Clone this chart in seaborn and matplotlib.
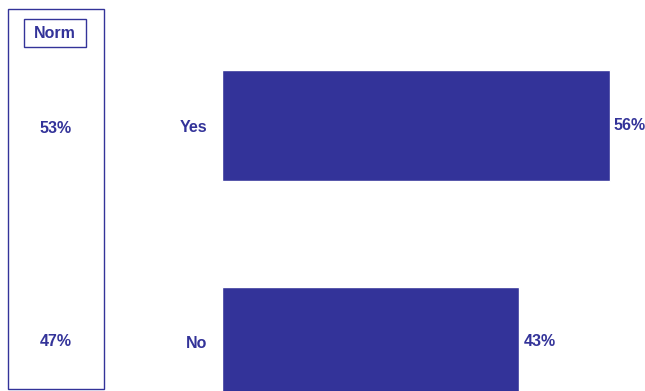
import matplotlib
matplotlib.use("Agg")
import matplotlib.pyplot as plt
from matplotlib.patches import Rectangle
import seaborn as sns
import pandas as pd

categories = ["Yes", "No"]
values = [56, 43]
norm_values = [53, 47]
norm_title = "Norm"

COLOR = "#333399"

sns.set_theme(style="white")
plt.rcParams["font.family"] = ["Liberation Sans", "DejaVu Sans"]

W, H = 645, 391
FS = 11.5
fig = plt.figure(figsize=(W / 100, H / 100), dpi=100)

# main bar axes
px_per_unit = 388 / 56
ax = fig.add_axes([221.5 / W, 0, (W - 221.5) / W, 1])
df = pd.DataFrame({"cat": categories, "val": values})
sns.barplot(data=df, y="cat", x="val", orient="h", color=COLOR, width=0.51,
            saturation=1, ax=ax)
ax.set_xlim(0, (W - 221.5) / px_per_unit)
ypx = 216.5
ylim = (1 + (391 - 342) / ypx, -125.5 / ypx)
ax.set_ylim(*ylim)
ax.set_xlabel("")
ax.set_ylabel("")
ax.set_xticks([])
for s in ax.spines.values():
    s.set_visible(False)
ax.tick_params(axis="y", length=0, pad=10)
for lab in ax.get_yticklabels():
    lab.set_color(COLOR)
    lab.set_fontweight("bold")
    lab.set_fontsize(FS)
for cont in ax.containers:
    ax.bar_label(cont, labels=[f"{v}%" for v in values], padding=3,
                 color=COLOR, fontweight="bold", fontsize=FS)

# left norm panel
axl = fig.add_axes([8 / W, 0, 96 / W, 1])
axl.set_xlim(0, 1)
axl.set_ylim(*ylim)
axl.axis("off")
axl.add_patch(Rectangle((0, 2 / H), 1, 380 / H, transform=axl.transAxes,
                        fill=False, edgecolor=COLOR, linewidth=1.0, clip_on=False))
axl.add_patch(Rectangle((16 / 96, (H - 47) / H), 62 / 96, 28 / H,
                        transform=axl.transAxes, fill=False, edgecolor=COLOR,
                        linewidth=1.0, clip_on=False))
axl.text(47 / 96, (H - 33) / H, norm_title, transform=axl.transAxes,
         ha="center", va="center", color=COLOR, fontweight="bold", fontsize=FS)
for i, v in enumerate(norm_values):
    axl.text(48 / 96, i + (3 / ypx if i == 0 else 0), f"{v}%", ha="center",
             va="center", color=COLOR, fontweight="bold", fontsize=FS)

fig.savefig("out.png", dpi=100)
